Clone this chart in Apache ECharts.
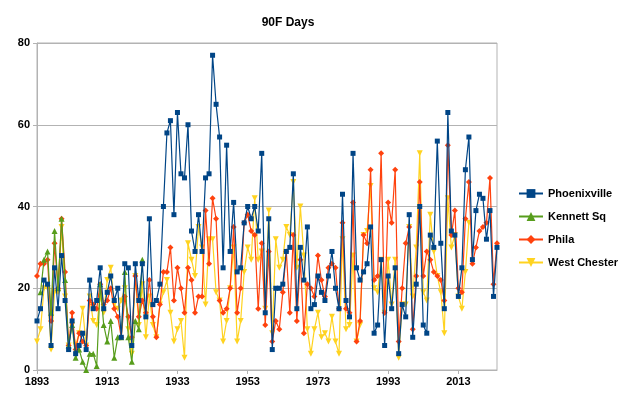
<!DOCTYPE html>
<html>
<head>
<meta charset="utf-8">
<script src="https://cdn.jsdelivr.net/npm/echarts@6/dist/echarts.min.js"></script>
<style>
html,body{margin:0;padding:0;background:#fff;}
#chart{width:622px;height:394px;}
</style>
</head>
<body>
<div id="chart"></div>
<script>
const startYear = 1893;
const endYear = 2024;
const years = [];
for (let y = startYear; y <= endYear; y++) years.push(String(y));

const phoenixville = [12,15,22,21,6,25,15,28,17,5,12,4,6,9,5,22,15,17,25,15,
19,23,17,20,8,26,25,6,26,17,26,13,37,16,17,21,40,58,61,38,
63,48,47,60,34,29,38,29,47,48,77,65,57,25,55,29,41,24,25,36,
40,37,40,34,53,14,37,5,20,20,21,29,30,48,15,30,22,35,15,16,
23,19,17,23,29,20,15,43,17,13,53,25,22,24,26,35,9,11,27,6,
23,15,25,4,16,13,38,8,21,40,11,9,33,30,56,31,15,63,34,33,
18,25,49,57,27,39,43,42,32,39,18,30];

const kennettSq = [null,19,27,29,14,34,20,37,22,6,11,3,5,2,0,4,4,1,21,11,
7,12,3,8,8,24,8,2,12,10,27];

const phila = [23,26,26,27,12,31,20,37,24,6,14,5,9,7,6,17,16,15,21,16,
17,20,15,13,8,18,13,8,23,13,17,14,22,13,8,16,24,24,30,17,
25,20,14,25,22,14,18,18,39,26,42,37,17,14,15,20,35,14,20,36,
38,34,33,15,31,11,29,7,12,10,19,29,14,33,12,27,9,21,20,18,
28,22,18,25,26,25,15,36,15,14,41,7,12,33,31,49,22,23,53,14,
41,36,49,7,20,31,35,10,23,46,23,29,27,24,23,22,17,55,33,39,
20,19,37,46,26,30,34,35,36,47,21,31];

const westChester = [7,10,20,20,5,19,19,35,18,6,11,6,9,15,6,18,12,11,18,14,
22,25,16,15,17,20,10,4,23,11,21,8,18,11,8,16,19,22,14,7,
10,12,3,31,27,23,35,30,16,32,32,19,17,7,12,20,30,7,12,24,
30,27,42,27,29,15,39,9,32,25,27,35,33,46,25,40,28,10,4,10,
14,8,9,7,13,7,4,32,10,11,28,7,11,33,34,45,20,19,27,14,
27,16,27,3,16,16,35,18,30,53,19,17,38,29,23,19,9,42,30,33,
18,15,24,36];

const seriesNames = ['Phoenixville','Kennett Sq','Phila','West Chester'];
const colors = ['#004586','#579d1c','#ff420e','#ffd320'];
const yTicks = {min:0, max:80, interval:20};

const chart = echarts.init(document.getElementById('chart'), null, {renderer:'canvas'});
const font = 'Liberation Sans, Arial, sans-serif';
const downTri = 'path://M0,0 L10,0 L5,9 Z';

function mk(name, data, color, symbol, size, z) {
  return {
    name: name, type: 'line', data: data, symbol: symbol, symbolSize: size,
    showAllSymbol: true, connectNulls: false, z: z,
    lineStyle: {color: color, width: 1.2},
    itemStyle: {color: color, borderWidth: 0},
    emphasis: {disabled: true}, animation: false
  };
}

chart.setOption({
  animation: false,
  backgroundColor: '#ffffff',
  title: {
    text: '90F Days', left: 283, top: 12, textAlign: 'center',
    textStyle: {fontFamily: font, fontSize: 12, fontWeight: 'bold', color: '#000'}
  },
  grid: {left: 37, right: 125, top: 43, bottom: 24, show: true, borderColor: '#b3b3b3', borderWidth: 1},
  legend: {
    orient: 'vertical', left: 513, top: 183,
    data: seriesNames,
    itemWidth: 24, itemHeight: 11, itemGap: 12,
    textStyle: {fontFamily: font, fontSize: 11, fontWeight: 'bold', color: '#000'}
  },
  xAxis: {
    type: 'category', data: years, boundaryGap: false,
    axisLine: {lineStyle: {color: '#b3b3b3'}},
    axisTick: {show: true, interval: function(i){return i % 20 === 0;}, length: 4, lineStyle: {color: '#b3b3b3'}},
    axisLabel: {interval: function(i){return i % 20 === 0;}, fontFamily: font, fontSize: 11, fontWeight: 'bold', color: '#000', margin: 6},
    splitLine: {show: false}
  },
  yAxis: {
    type: 'value', min: yTicks.min, max: yTicks.max, interval: yTicks.interval,
    axisLine: {show: true, lineStyle: {color: '#b3b3b3'}},
    axisTick: {show: true, length: 4, lineStyle: {color: '#b3b3b3'}},
    axisLabel: {fontFamily: font, fontSize: 11, fontWeight: 'bold', color: '#000', margin: 7},
    splitLine: {show: true, lineStyle: {color: '#b3b3b3'}}
  },
  series: [
    mk('West Chester', westChester, colors[3], downTri, 6, 2),
    mk('Phila', phila, colors[2], 'diamond', 6, 3),
    mk('Kennett Sq', kennettSq, colors[1], 'triangle', 6, 4),
    mk('Phoenixville', phoenixville, colors[0], 'rect', 5, 5)
  ]
});
</script>
</body>
</html>
